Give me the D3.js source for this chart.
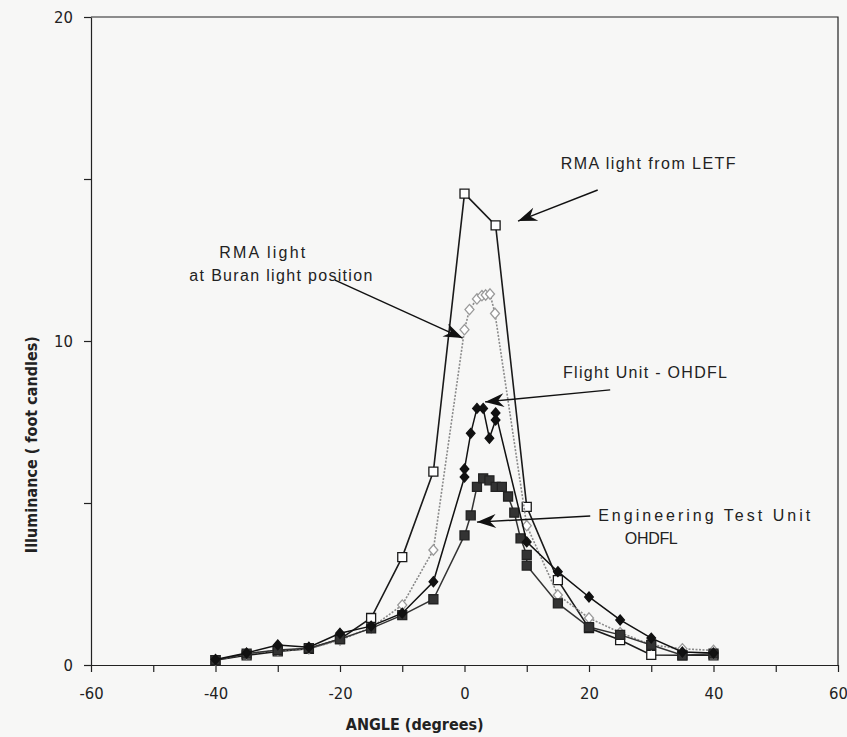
<!DOCTYPE html>
<html>
<head>
<meta charset="utf-8">
<script src="https://cdn.jsdelivr.net/npm/d3@7"></script>
<style>
  body { margin: 0; background: #f7f7f6; }
  svg { display: block; }
  .tick text { font-family: "Liberation Sans Narrow", "DejaVu Sans Condensed", "Liberation Sans", Arial, sans-serif; font-stretch: condensed; font-size: 16.5px; fill: #222; }
  .note { font-family: "Liberation Sans", Arial, sans-serif; font-size: 16px; fill: #222; }
</style>
</head>
<body>
<svg id="plotSVG" width="847" height="737"></svg>
<script>
// angles (degrees) and illuminance (foot candles)
let letfAngles   = [-40, -35, -30, -25, -20, -15, -10, -5, 0, 5, 10, 15, 20, 25, 30, 35, 40];
let letfValues   = [0.15, 0.3, 0.42, 0.5, 0.8, 1.45, 3.33, 5.97, 14.55, 13.57, 4.88, 2.62, 1.14, 0.77, 0.31, 0.3, 0.3];

let buranAngles  = [-40, -35, -30, -25, -20, -15, -10, -5, 0, 0.8, 2, 2.8, 3.4, 4.1, 4.9, 10, 15, 20, 25, 30, 35, 40];
let buranValues  = [0.15, 0.35, 0.45, 0.5, 0.77, 1.15, 1.85, 3.55, 10.35, 10.97, 11.3, 11.4, 11.42, 11.45, 10.85, 4.3, 2.16, 1.45, 1.0, 0.62, 0.5, 0.45];

let flightAngles = [-40, -35, -30, -25, -20, -15, -10, -5, 0, 0, 1, 2, 3, 4, 5, 5, 10, 15, 20, 25, 30, 35, 40];
let flightValues = [0.17, 0.37, 0.62, 0.55, 0.98, 1.2, 1.6, 2.57, 5.8, 6.05, 7.15, 7.92, 7.92, 7.0, 7.56, 7.78, 3.8, 2.88, 2.1, 1.39, 0.83, 0.4, 0.37];

let etuAngles    = [-40, -35, -30, -25, -20, -15, -10, -5, 0, 1, 2, 3, 4, 5, 6, 7, 8, 9, 10, 10, 15, 20, 25, 30, 35, 40];
let etuValues    = [0.15, 0.35, 0.46, 0.52, 0.8, 1.13, 1.54, 2.03, 4.0, 4.62, 5.5, 5.76, 5.7, 5.5, 5.5, 5.2, 4.7, 3.91, 3.4, 3.07, 1.9, 1.17, 0.93, 0.62, 0.3, 0.35];

let xTicks = [-60, -50, -40, -30, -20, -10, 0, 10, 20, 30, 40, 50, 60];
let xTickLabels = [-60, -40, -20, 0, 20, 40, 60];
let yTicks = [0, 5, 10, 15, 20];
let yTickLabels = [0, 10, 20];

let width = 747, height = 648;

let svg = d3.select("#plotSVG")
  .append("g")
  .attr("transform", "translate(91,17)")

let xScale = d3.scaleLinear()
  .domain([-60, 60])
  .range([0, width]);

let yScale = d3.scaleLinear()
  .domain([0, 20])
  .range([height, 0]);

// frame (top + right)
svg.append("path")
  .attr("d", `M0,0H${width}V${height}`)
  .attr("fill", "none")
  .attr("stroke", "#222")
  .attr("stroke-width", 1.2)

svg.append("g")
  .attr("id", "yAxis")
  .call(d3.axisLeft(yScale)
          .tickValues(yTicks)
          .tickFormat(d => yTickLabels.includes(d) ? d : "")
          .tickSize(7)
          .tickSizeOuter(0)
          .tickPadding(11)
       )

svg.append("g")
  .attr("transform", `translate(0,${height})`)
  .attr("id", "xAxis")
  .call(d3.axisBottom(xScale)
          .tickValues(xTicks)
          .tickFormat(d => xTickLabels.includes(d) ? d : "")
          .tickSize(7)
          .tickSizeOuter(0)
          .tickPadding(15)
       )

svg.selectAll(".domain, .tick line").attr("stroke", "#222").attr("stroke-width", 1.2)

// axis titles
svg.append("text")
  .attr("x", xScale(-8))
  .attr("y", height + 65)
  .attr("text-anchor", "middle")
  .style("font-family", "'Liberation Sans Narrow', 'DejaVu Sans Condensed', 'Liberation Sans', Arial, sans-serif")
  .style("font-stretch", "condensed")
  .style("font-weight", "bold")
  .style("font-size", 16)
  .attr("fill", "#222")
  .text("ANGLE (degrees)")

svg.append("text")
  .attr("transform", `translate(-54,${yScale(6.8)}) rotate(-90)`)
  .attr("text-anchor", "middle")
  .style("font-family", "'Liberation Sans Narrow', 'DejaVu Sans Condensed', 'Liberation Sans', Arial, sans-serif")
  .style("font-stretch", "condensed")
  .style("font-weight", "bold")
  .style("font-size", 16)
  .attr("fill", "#222")
  .text("Illuminance ( foot candles)")

let series = [
  { name: "letf", angles: letfAngles, values: letfValues, line: "#1a1a1a", dash: null, lw: 1.6, marker: "square", fill: "#fff", stroke: "#1a1a1a", r: 4.5 },
  { name: "buran", angles: buranAngles, values: buranValues, line: "#8a8a8a", dash: "2,1.5", lw: 1.6, marker: "diamond", fill: "#fff", stroke: "#9a9a9a", r: 4.5 },
  { name: "etu", angles: etuAngles, values: etuValues, line: "#333", dash: null, lw: 1.5, marker: "square", fill: "#333", stroke: "#222", r: 4.5 },
  { name: "flight", angles: flightAngles, values: flightValues, line: "#111", dash: null, lw: 1.5, marker: "diamond", fill: "#111", stroke: "#111", r: 4.3 }
]

let line = d3.line()
  .x(d => xScale(d[0]))
  .y(d => yScale(d[1]))

let markerPath = (type, r) => type === "square"
  ? `M${-r},${-r}H${r}V${r}H${-r}Z`
  : `M0,${-r * 1.15}L${r},0L0,${r * 1.15}L${-r},0Z`

series.forEach(s => {
  let pts = s.angles.map((a, i) => [a, s.values[i]])

  svg.append("path")
    .datum(pts)
    .attr("d", line)
    .attr("fill", "none")
    .attr("stroke", s.line)
    .attr("stroke-width", s.lw)
    .attr("stroke-dasharray", s.dash)

  svg.selectAll(".pt-" + s.name)
    .data(pts)
    .join("path")
    .attr("class", "pt-" + s.name)
    .attr("transform", d => `translate(${xScale(d[0])},${yScale(d[1])})`)
    .attr("d", markerPath(s.marker, s.r))
    .attr("fill", s.fill)
    .attr("stroke", s.stroke)
    .attr("stroke-width", 1.3)
})

// annotation arrows
svg.append("defs").append("marker")
  .attr("id", "head")
  .attr("markerUnits", "userSpaceOnUse")
  .attr("viewBox", "-20 -8 22 16")
  .attr("markerWidth", 22)
  .attr("markerHeight", 16)
  .attr("refX", 0)
  .attr("refY", 0)
  .attr("orient", "auto")
  .append("path")
  .attr("d", "M0,0 L-19,-7 L-13,0 L-19,7 Z")
  .attr("fill", "#111")

let arrows = [
  { from: [21.4, 14.66], to: [8.6, 13.7] },
  { from: [-20.8, 11.88], to: [-0.3, 10.09] },
  { from: [23.4, 8.49], to: [3.3, 8.12] },
  { from: [20.2, 4.6], to: [2.0, 4.41] }
]

svg.selectAll(".arrow")
  .data(arrows)
  .join("line")
  .attr("class", "arrow")
  .attr("x1", d => xScale(d.from[0]))
  .attr("y1", d => yScale(d.from[1]))
  .attr("x2", d => xScale(d.to[0]))
  .attr("y2", d => yScale(d.to[1]))
  .attr("stroke", "#111")
  .attr("stroke-width", 1.4)
  .attr("marker-end", "url(#head)")

let notes = [
  { text: "RMA light from LETF", x: 29.5, y: 15.3, w: 175 },
  { text: "RMA light", x: -32.5, y: 12.55, w: 86 },
  { text: "at Buran light position", x: -29.5, y: 11.85, w: 183 },
  { text: "Flight Unit - OHDFL", x: 29.0, y: 8.85, w: 164 },
  { text: "Engineering Test Unit", x: 38.5, y: 4.45, w: 212 },
  { text: "OHDFL", x: 30.0, y: 3.72, w: 53 }
]

svg.selectAll(".note")
  .data(notes)
  .join("text")
  .attr("class", "note")
  .attr("x", d => xScale(d.x))
  .attr("y", d => yScale(d.y))
  .attr("text-anchor", "middle")
  .attr("textLength", d => d.w)
  .attr("lengthAdjust", "spacing")
  .text(d => d.text)
</script>
</body>
</html>
